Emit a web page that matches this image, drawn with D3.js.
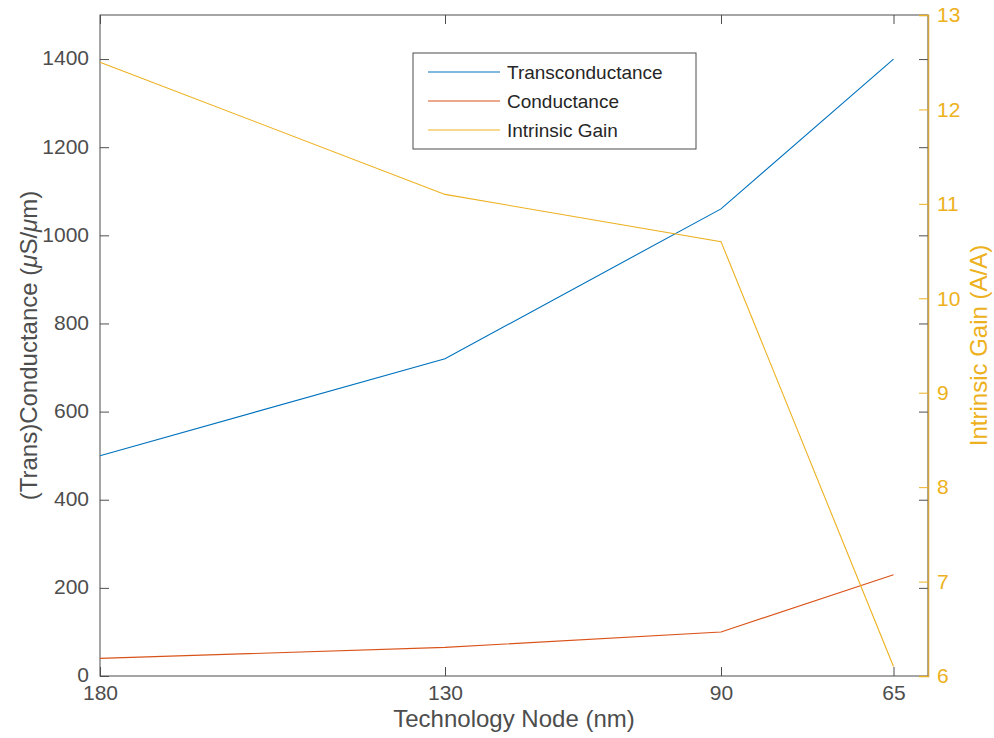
<!DOCTYPE html>
<html>
<head>
<meta charset="utf-8">
<script src="https://cdn.jsdelivr.net/npm/d3@7"></script>
<style>
  body { margin: 0; background: #fff; }
  svg, svg text { font-family: "Liberation Sans", Arial, Helvetica, sans-serif; }
</style>
</head>
<body>
<div id="chart"></div>
<script>
// data
var nodes = [180, 130, 90, 65];
var transconductance = [500, 720, 1060, 1400];
var conductance = [40, 65, 100, 230];
var intrinsicGain = [12.5, 11.1, 10.6, 6.1];
var leftTicks = [0, 200, 400, 600, 800, 1000, 1200, 1400];
var rightTicks = [6, 7, 8, 9, 10, 11, 12, 13];

var W = 994, H = 738;
var margin = {left: 100, right: 66, top: 15, bottom: 62};
var width = W - margin.left - margin.right,
    height = H - margin.top - margin.bottom;

var axisCol = "#4d4d4d", gainCol = "#EDB120";
var colors = ["#0072BD", "#D95319", "#EDB120"];

var svg = d3.select("#chart").append("svg")
    .attr("width", W).attr("height", H);
var g = svg.append("g")
    .attr("transform", "translate(" + margin.left + "," + margin.top + ")");

// reversed x axis: big node on the left
var x = d3.scaleLinear().domain([180, 60]).range([0, width]);
var yL = d3.scaleLinear().domain([0, 1500]).range([height, 0]);
var yR = d3.scaleLinear().domain([6, 13]).range([height, 0]);

var tickLen = 9;
var fmt = d3.format("d");

// box
g.append("rect").attr("width", width).attr("height", height)
    .attr("fill", "none").attr("stroke", axisCol).attr("stroke-width", 1);

// x axis bottom
var xAx = g.append("g").attr("transform", "translate(0," + height + ")")
    .call(d3.axisBottom(x).tickValues(nodes).tickSize(-tickLen).tickPadding(9).tickFormat(fmt));
// x ticks mirrored on top
var xTop = g.append("g")
    .call(d3.axisTop(x).tickValues(nodes).tickSize(-tickLen).tickFormat(""));

// left axis
var yAx = g.append("g")
    .call(d3.axisLeft(yL).tickValues(leftTicks).tickSize(-tickLen).tickPadding(11).tickFormat(fmt));
// left ticks mirrored on right side
var yMir = g.append("g").attr("transform", "translate(" + width + ",0)")
    .call(d3.axisRight(yL).tickValues(leftTicks).tickSize(-tickLen).tickFormat(""));
// right axis
var yRAx = g.append("g").attr("transform", "translate(" + width + ",0)")
    .call(d3.axisRight(yR).tickValues(rightTicks).tickSize(-tickLen).tickPadding(9).tickFormat(fmt));

[xAx, xTop, yAx, yMir, yRAx].forEach(function(a) {
    a.attr("font-family", null);
    a.selectAll("text").style("font-size", "21px");
});
[xAx, xTop, yAx, yMir].forEach(function(a) {
    a.select(".domain").remove();
    a.selectAll("line").attr("stroke", axisCol);
    a.selectAll("text").attr("fill", axisCol);
});
// the 0 label sits a touch high so it clears 180
yAx.selectAll("text").attr("dy", "0.28em");
yRAx.select(".domain").attr("stroke", "#d2a53c").attr("stroke-width", 1.5);
yRAx.selectAll("line").attr("stroke", gainCol);
yRAx.selectAll("text").attr("fill", gainCol);

// lines
var series = [
    {name: "Transconductance", values: transconductance, y: yL},
    {name: "Conductance", values: conductance, y: yL},
    {name: "Intrinsic Gain", values: intrinsicGain, y: yR}
];
series.forEach(function(s, i) {
    var line = d3.line()
        .x(function(d, j) { return x(nodes[j]); })
        .y(function(d) { return s.y(d); });
    g.append("path").datum(s.values)
        .attr("d", line)
        .attr("fill", "none")
        .attr("stroke", colors[i])
        .attr("stroke-width", 1.1);
});

// axis labels
svg.append("text")
    .attr("x", margin.left + width / 2).attr("y", 727)
    .attr("text-anchor", "middle").attr("fill", axisCol)
    .style("font-size", "24px")
    .text("Technology Node (nm)");

svg.append("text")
    .attr("transform", "translate(37," + (margin.top + height / 2) + ") rotate(-90)")
    .attr("text-anchor", "middle").attr("fill", axisCol)
    .style("font-size", "24px")
    .html("(Trans)Conductance (<tspan font-style=\"italic\">\u03bc</tspan>S/<tspan font-style=\"italic\">\u03bc</tspan>m)");

svg.append("text")
    .attr("transform", "translate(987," + (margin.top + height / 2) + ") rotate(-90)")
    .attr("text-anchor", "middle").attr("fill", gainCol)
    .style("font-size", "24px")
    .text("Intrinsic Gain (A/A)");

// legend
var lg = svg.append("g").attr("transform", "translate(413,53)");
lg.append("rect").attr("width", 283).attr("height", 96)
    .attr("fill", "#fff").attr("stroke", axisCol).attr("stroke-width", 1);
var item = lg.selectAll("g.item").data(series).enter().append("g")
    .attr("class", "item")
    .attr("transform", function(d, i) { return "translate(0," + (19 + i * 29) + ")"; });
item.append("line").attr("x1", 15).attr("x2", 87)
    .attr("stroke", function(d, i) { return colors[i]; }).attr("stroke-width", 1.1);
item.append("text").attr("x", 94).attr("dy", "0.35em")
    .attr("fill", "#262626").style("font-size", "19px")
    .text(function(d) { return d.name; });
</script>
</body>
</html>
